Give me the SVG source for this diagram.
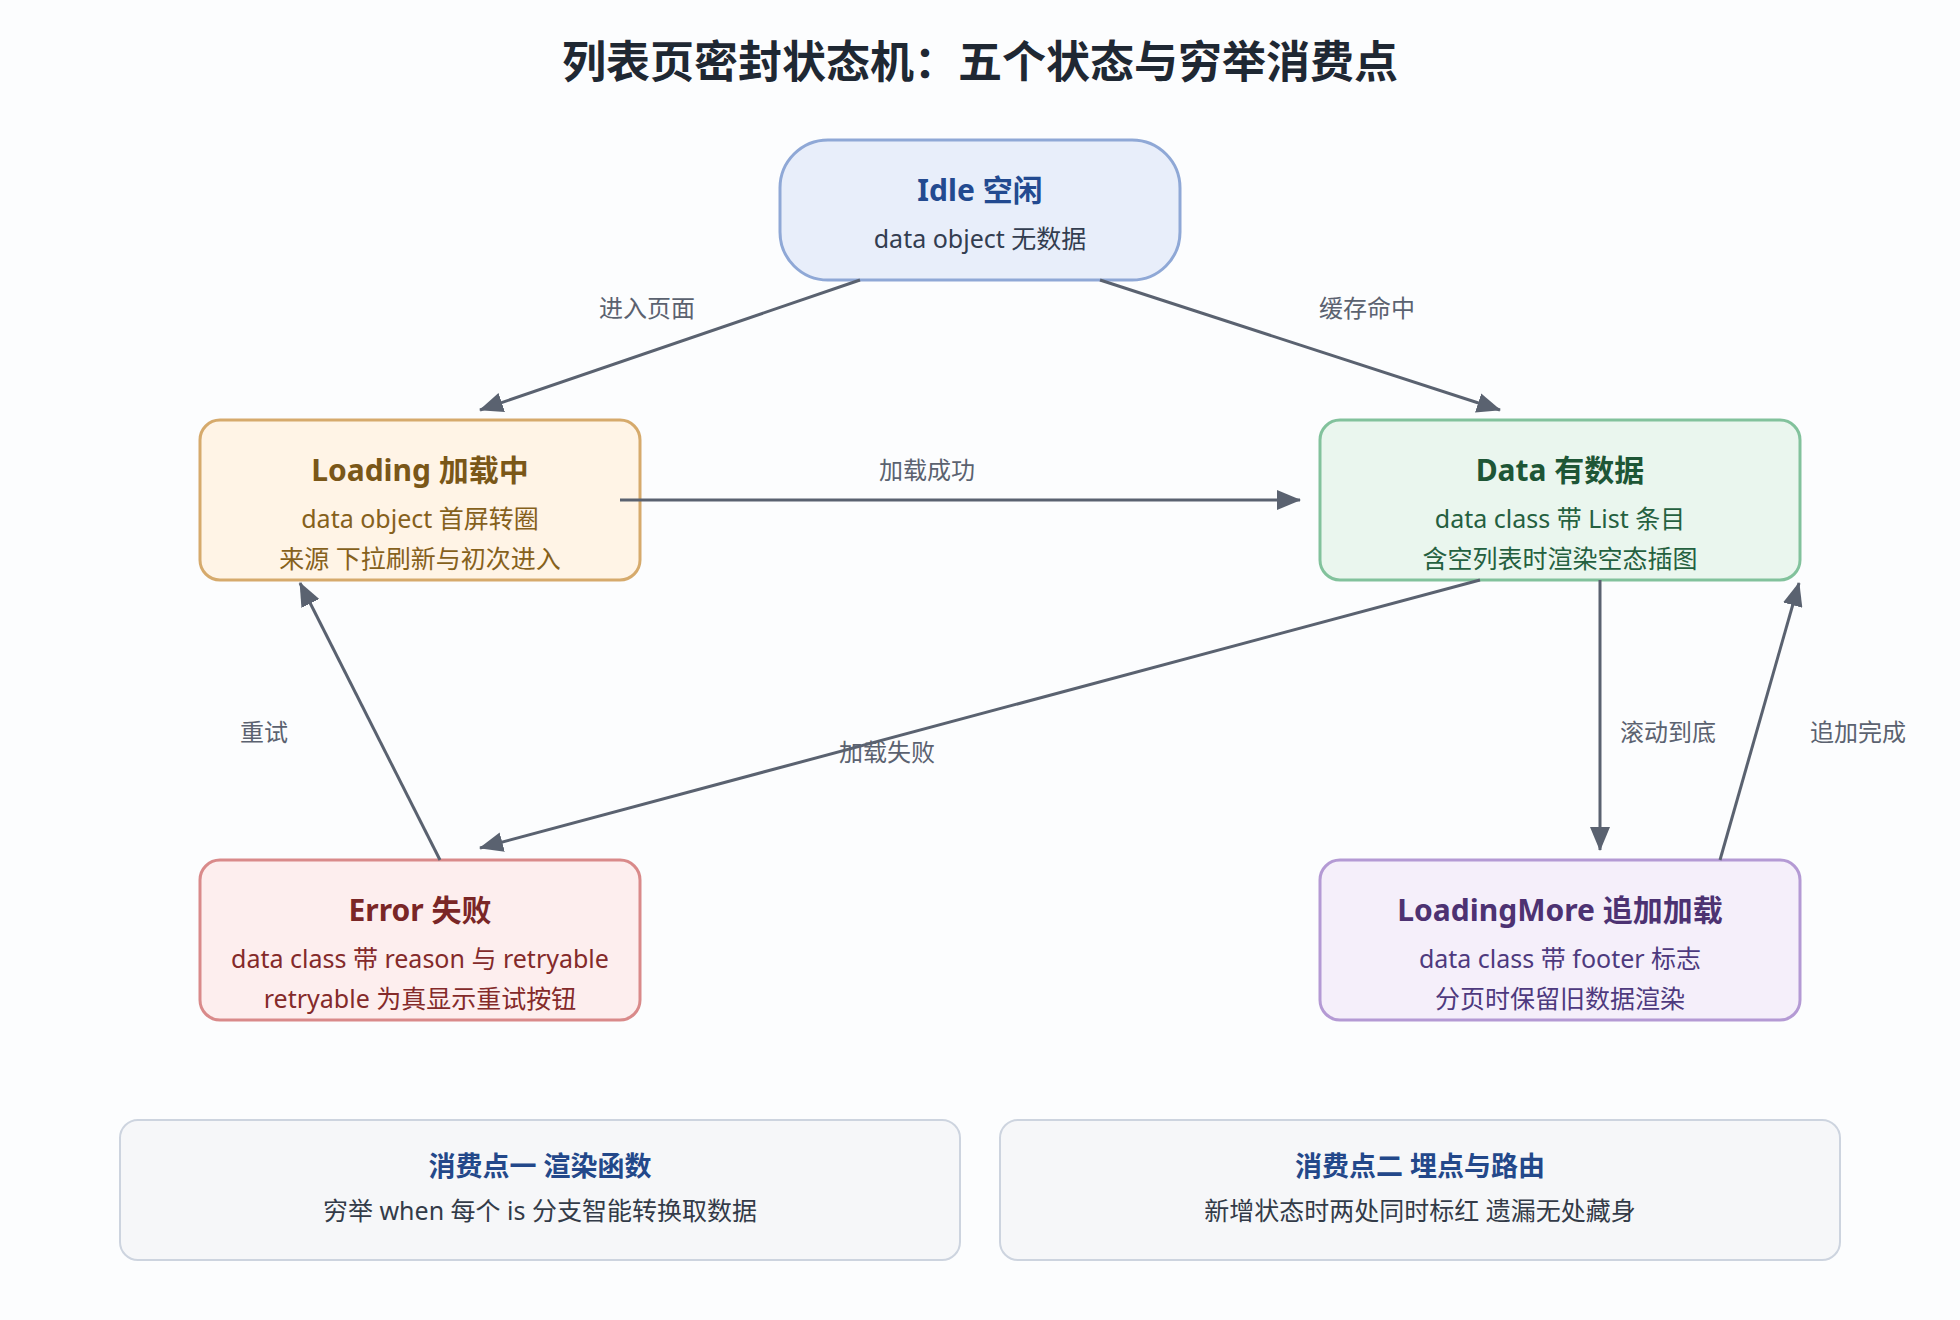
<svg xmlns="http://www.w3.org/2000/svg" width="1960" height="1320" viewBox="0 0 1960 1320">
<style>
text{font-family:"Noto Sans","Noto Sans CJK SC",sans-serif;text-anchor:middle;dominant-baseline:central}
.ttl{font-size:30px;font-weight:700}
.sub{font-size:25px}
.lbl{font-size:24px;fill:#5b6270}
.edge{stroke:#5a6270;stroke-width:3;fill:none}
.ptitle{font-size:27px;font-weight:700;fill:#23488a}
.psub{font-size:25px;fill:#333b48}
</style>
<defs>
<marker id="ah" markerUnits="userSpaceOnUse" markerWidth="24" markerHeight="20" refX="23" refY="10" orient="auto" viewBox="0 0 24 20">
<path d="M0,0 L24,10 L0,20 z" fill="#5a6270"/>
</marker>
</defs>
<rect x="0" y="0" width="1960" height="1320" fill="#fcfdfe"/>
<text x="980" y="59" style="font-size:44px;font-weight:700;fill:#1f2833;font-family:'Noto Sans CJK SC','Noto Sans',sans-serif">列表页密封状态机：五个状态与穷举消费点</text>

<g id="idle">
<rect x="780" y="140" width="400" height="140" rx="48" fill="#e8eefa" stroke="#8fa8d6" stroke-width="3"/>
<text class="ttl" x="980" y="189" fill="#234a90">Idle 空闲</text>
<text class="sub" x="980" y="238" fill="#333d50">data object 无数据</text>
</g>

<g id="loading">
<rect x="200" y="420" width="440" height="160" rx="20" fill="#fff4e6" stroke="#d6aa6c" stroke-width="3"/>
<text class="ttl" x="420" y="469" fill="#7a5718">Loading 加载中</text>
<text class="sub" x="420" y="518" fill="#86611c">data object 首屏转圈</text>
<text class="sub" x="420" y="558" fill="#86611c">来源 下拉刷新与初次进入</text>
</g>

<g id="data">
<rect x="1320" y="420" width="480" height="160" rx="20" fill="#eaf6ee" stroke="#82c29c" stroke-width="3"/>
<text class="ttl" x="1560" y="469" fill="#1e5636">Data 有数据</text>
<text class="sub" x="1560" y="518" fill="#25603f">data class 带 List 条目</text>
<text class="sub" x="1560" y="558" fill="#25603f">含空列表时渲染空态插图</text>
</g>

<g id="error">
<rect x="200" y="860" width="440" height="160" rx="20" fill="#fdeeee" stroke="#d98a8a" stroke-width="3"/>
<text class="ttl" x="420" y="909" fill="#7a2626">Error 失败</text>
<text class="sub" x="420" y="958" fill="#842a2a">data class 带 reason 与 retryable</text>
<text class="sub" x="420" y="998" fill="#842a2a">retryable 为真显示重试按钮</text>
</g>

<g id="loadingmore">
<rect x="1320" y="860" width="480" height="160" rx="20" fill="#f5effa" stroke="#b49ad4" stroke-width="3"/>
<text class="ttl" x="1560" y="909" fill="#4d3272">LoadingMore 追加加载</text>
<text class="sub" x="1560" y="958" fill="#4e3a7e">data class 带 footer 标志</text>
<text class="sub" x="1560" y="998" fill="#4e3a7e">分页时保留旧数据渲染</text>
</g>

<g id="panel1">
<rect x="120" y="1120" width="840" height="140" rx="18" fill="#f6f7f9" stroke="#cdd4df" stroke-width="2"/>
<text class="ptitle" x="540" y="1165">消费点一 渲染函数</text>
<text class="psub" x="540" y="1210">穷举 when 每个 is 分支智能转换取数据</text>
</g>

<g id="panel2">
<rect x="1000" y="1120" width="840" height="140" rx="18" fill="#f6f7f9" stroke="#cdd4df" stroke-width="2"/>
<text class="ptitle" x="1420" y="1165">消费点二 埋点与路由</text>
<text class="psub" x="1420" y="1210">新增状态时两处同时标红 遗漏无处藏身</text>
</g>

<g id="connectors">
<line class="edge" x1="860" y1="280" x2="480" y2="410" marker-end="url(#ah)"/>
<line class="edge" x1="1100" y1="280" x2="1500" y2="410" marker-end="url(#ah)"/>
<line class="edge" x1="620" y1="500" x2="1300" y2="500" marker-end="url(#ah)"/>
<line class="edge" x1="1480" y1="580" x2="480" y2="848" marker-end="url(#ah)"/>
<line class="edge" x1="1600" y1="580" x2="1600" y2="850" marker-end="url(#ah)"/>
<line class="edge" x1="1720" y1="860" x2="1799" y2="583" marker-end="url(#ah)"/>
<line class="edge" x1="440" y1="860" x2="300" y2="583" marker-end="url(#ah)"/>
<text class="lbl" x="647" y="307">进入页面</text>
<text class="lbl" x="1367" y="307">缓存命中</text>
<text class="lbl" x="927" y="469">加载成功</text>
<text class="lbl" x="887" y="751">加载失败</text>
<text class="lbl" x="264" y="731">重试</text>
<text class="lbl" x="1668" y="731">滚动到底</text>
<text class="lbl" x="1858" y="731">追加完成</text>
</g>
</svg>
